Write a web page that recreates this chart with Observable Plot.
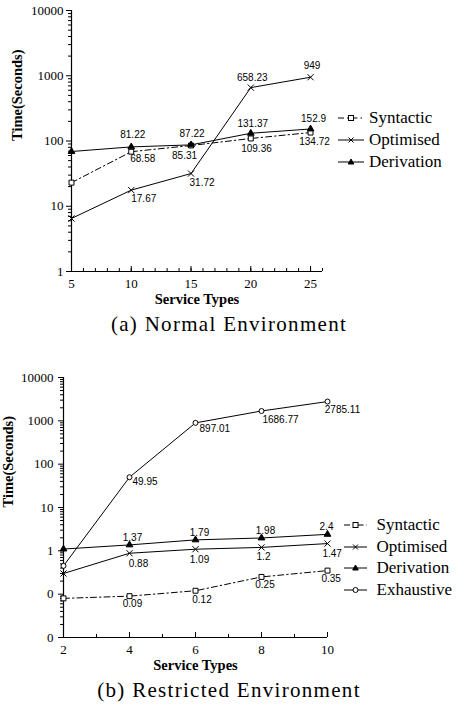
<!DOCTYPE html>
<html>
<head>
<meta charset="utf-8">
<script src="https://cdn.jsdelivr.net/npm/d3@7"></script>
<script src="https://cdn.jsdelivr.net/npm/@observablehq/plot@0.6"></script>
<style>
  html, body { margin: 0; padding: 0; background: #fff; }
  #page { position: relative; width: 456px; height: 707px; overflow: hidden; background: #fff; }
  .caption { position: absolute; left: 0; width: 458px; text-align: center; font-family: "Liberation Serif", "Times New Roman", "DejaVu Serif", serif; font-size: 21px; line-height: 24px; letter-spacing: 1.3px; color: #000; white-space: nowrap; }
  .legend-item { position: absolute; height: 20px; line-height: 20px; font-family: "Liberation Serif", "Times New Roman", "DejaVu Serif", serif; font-size: 17px; color: #000; white-space: nowrap; }
  .legend-item svg { position: absolute; left: 0; top: 4px; }
</style>
</head>
<body>
<div id="page"></div>
<script>
// ---------------- Data: (a) Normal Environment ----------------
const topX = [5, 10, 15, 20, 25];
const topSyntactic = [23, 68.58, 85.31, 109.36, 134.72];
const topOptimised = [6.5, 17.67, 31.72, 658.23, 949];
const topDerivation = [69, 81.22, 87.22, 131.37, 152.9];
const topXTicks = [5, 10, 15, 20, 25];
const topYTicks = [1, 10, 100, 1000, 10000];
const topYTickLabels = ["1", "10", "100", "1000", "10000"];

// ---------------- Data: (b) Restricted Environment ----------------
const botX = [2, 4, 6, 8, 10];
const botSyntactic = [0.08, 0.09, 0.12, 0.25, 0.35];
const botOptimised = [0.3, 0.88, 1.09, 1.2, 1.47];
const botDerivation = [1.1, 1.37, 1.79, 1.98, 2.4];
const botExhaustive = [0.45, 49.95, 897.01, 1686.77, 2785.11];
const botXTicks = [2, 4, 6, 8, 10];
const botYTicks = [0.01, 0.1, 1, 10, 100, 1000, 10000];
const botYTickLabels = ["0", "0", "1", "10", "100", "1000", "10000"];

const seriesNames = ["Syntactic", "Optimised", "Derivation", "Exhaustive"];

// ---------------- Styles (separate from data) ----------------
const SERIF = "'Liberation Serif', 'Times New Roman', 'DejaVu Serif', serif";
const SANS = "'Liberation Sans', Arial, sans-serif";
const seriesStyle = {
  Syntactic:  {dash: "6,3,1.5,3", symbol: "square",   r: 2.8, fill: "white"},
  Optimised:  {dash: null,        symbol: "times",    r: 2.9, fill: "none"},
  Derivation: {dash: null,        symbol: "triangle", r: 2.5, fill: "black"},
  Exhaustive: {dash: null,        symbol: "circle",   r: 2.5, fill: "white"}
};

// label offsets [dx, dy] relative to each point (null = no label)
const topLabelOffsets = {
  Syntactic:  [null, [11.5, 7.6], [-6.5, 10], [5.7, 10.6], [4, 9.4]],
  Optimised:  [null, [12.5, 8.8], [11, 9.2], [1.5, -10], [1.5, -11]],
  Derivation: [null, [1.5, -11.6], [1, -10.6], [2, -9.7], [3, -9.7]]
};
const botLabelOffsets = {
  Syntactic:  [null, [3, 7.7], [6.5, 9], [3.5, 8.3], [3.7, 8.3]],
  Optimised:  [null, [9, 10.5], [4, 10.7], [2, 9.7], [4.7, 10]],
  Derivation: [null, [3, -7], [4, -7], [4, -7.3], [-1, -7.3]],
  Exhaustive: [null, [15.5, 4.5], [19.3, 6], [19, 8.5], [15, 8.5]]
};

function logMinor(lo, hi) {
  const out = [];
  for (let e = Math.round(Math.log10(lo)); e < Math.round(Math.log10(hi)); e++) {
    for (let k = 2; k <= 9; k++) out.push(k * Math.pow(10, e));
  }
  return out;
}
function intRange(a, b) { const o = []; for (let v = a; v <= b; v++) o.push(v); return o; }

function makeChart(cfg) {
  const innerH = cfg.height - cfg.marginTop - cfg.marginBottom;
  const marks = [];
  marks.push(Plot.ruleX([cfg.xDomain[0]], {stroke: "black", strokeWidth: 1.2}));
  marks.push(Plot.ruleY([cfg.yDomain[0]], {stroke: "black", strokeWidth: 1.2}));
  marks.push(Plot.axisY({ticks: logMinor(cfg.yDomain[0], cfg.yDomain[1]), tickFormat: () => "", tickSize: 3, label: null}));
  marks.push(Plot.axisY({ticks: cfg.yTicks, tickFormat: d => cfg.yTickLabels[cfg.yTicks.indexOf(d)], tickSize: 5, tickPadding: cfg.yPad, label: null, fontFamily: SERIF}));
  marks.push(Plot.tickX(intRange(cfg.xDomain[0], cfg.xDomain[1]), {x: d => d, insetTop: innerH - 3, stroke: "black"}));
  marks.push(Plot.tickX(cfg.xTicks, {x: d => d, insetTop: innerH - 5, stroke: "black"}));
  marks.push(Plot.axisX({ticks: cfg.xTicks, tickSize: 0, tickPadding: 7.5, label: null, fontFamily: SERIF}));
  for (const s of cfg.series) {
    const st = seriesStyle[s.name];
    const data = cfg.xs.map((x, i) => ({x, y: s.values[i], i}));
    const opts = {x: "x", y: "y", stroke: "black", strokeWidth: 1};
    if (st.dash) opts.strokeDasharray = st.dash;
    marks.push(Plot.line(data, opts));
  }
  for (const s of cfg.series) {
    const st = seriesStyle[s.name];
    const data = cfg.xs.map((x, i) => ({x, y: s.values[i], i}));
    marks.push(Plot.dot(data, {x: "x", y: "y", symbol: st.symbol, r: st.r, fill: st.fill, stroke: "black", strokeWidth: 1}));
    const offs = cfg.offsets[s.name];
    data.forEach((d, i) => {
      if (!offs[i]) return;
      marks.push(Plot.text([d], {x: "x", y: "y", text: e => String(e.y), dx: offs[i][0], dy: offs[i][1],
        fontFamily: SANS, fontSize: 10, fill: "black"}));
    });
  }
  marks.push(Plot.text(["Time(Seconds)"], {text: d => d, frameAnchor: "left", dx: cfg.titleDx, rotate: -90,
    fontFamily: SERIF, fontWeight: "bold", fontSize: 14.5, fill: "black"}));
  marks.push(Plot.text(["Service Types"], {text: d => d, frameAnchor: "bottom", dy: 32,
    fontFamily: SERIF, fontWeight: "bold", fontSize: 14.5, fill: "black"}));
  const svg = Plot.plot({
    width: 456, height: cfg.height,
    marginLeft: cfg.marginLeft, marginRight: cfg.marginRight,
    marginTop: cfg.marginTop, marginBottom: cfg.marginBottom,
    x: {domain: cfg.xDomain},
    y: {type: "log", domain: cfg.yDomain},
    style: {fontFamily: SERIF, fontSize: "13px", color: "black", background: "transparent", overflow: "visible"},
    marks
  });
  return svg;
}

const page = document.getElementById("page");

const chartA = makeChart({
  height: 308, marginLeft: 71, marginRight: 134, marginTop: 10, marginBottom: 37,
  xDomain: [5, 26], yDomain: [1, 10000], xTicks: topXTicks, yTicks: topYTicks, yTickLabels: topYTickLabels,
  yPad: 3, titleDx: -54, xs: topX, offsets: topLabelOffsets,
  series: [
    {name: "Syntactic", values: topSyntactic},
    {name: "Optimised", values: topOptimised},
    {name: "Derivation", values: topDerivation}
  ]
});
chartA.style.position = "absolute";
chartA.style.left = "0px";
chartA.style.top = "0px";
page.appendChild(chartA);

const chartB = makeChart({
  height: 340, marginLeft: 63, marginRight: 129, marginTop: 37, marginBottom: 43,
  xDomain: [2, 10], yDomain: [0.01, 10000], xTicks: botXTicks, yTicks: botYTicks, yTickLabels: botYTickLabels,
  yPad: 5, titleDx: -55, xs: botX, offsets: botLabelOffsets,
  series: [
    {name: "Syntactic", values: botSyntactic},
    {name: "Optimised", values: botOptimised},
    {name: "Derivation", values: botDerivation},
    {name: "Exhaustive", values: botExhaustive}
  ]
});
chartB.style.position = "absolute";
chartB.style.left = "0px";
chartB.style.top = "340px";
page.appendChild(chartB);

// ---------------- Captions ----------------
function caption(text, topPx) {
  const d = document.createElement("div");
  d.className = "caption";
  d.style.top = topPx + "px";
  d.textContent = text;
  page.appendChild(d);
}
caption("(a) Normal Environment", 311.5);
caption("(b) Restricted Environment", 677.5);

// ---------------- Legends ----------------
function symbolPath(sym, cx, cy) {
  switch (sym) {
    case "square": return `<rect x="${cx-2.5}" y="${cy-2.5}" width="5" height="5" fill="white" stroke="black"/>`;
    case "times": return `<path d="M${cx-2.5},${cy-2.5}L${cx+2.5},${cy+2.5}M${cx-2.5},${cy+2.5}L${cx+2.5},${cy-2.5}" stroke="black"/>`;
    case "triangle": return `<path d="M${cx},${cy-3}L${cx+2.8},${cy+2}L${cx-2.8},${cy+2}Z" fill="black" stroke="black"/>`;
    case "circle": return `<circle cx="${cx}" cy="${cy}" r="2.5" fill="white" stroke="black"/>`;
  }
  return "";
}
function legend(names, x0, x1, textX, ys) {
  names.forEach((name, i) => {
    const st = seriesStyle[name];
    const w = x1 - x0;
    const item = document.createElement("div");
    item.className = "legend-item";
    item.style.left = x0 + "px";
    item.style.top = (ys[i] - 10) + "px";
    item.innerHTML = `<svg width="${w + 2}" height="12" style="overflow:visible">` +
      `<line x1="0" y1="6" x2="${w}" y2="6" stroke="black" stroke-width="1" ${st.dash ? `stroke-dasharray="${st.dash}"` : ""}/>` +
      symbolPath(st.symbol, w / 2, 6) + `</svg>` +
      `<span style="position:absolute;left:${textX - x0}px;top:0">${name}</span>`;
    page.appendChild(item);
  });
}
legend(seriesNames.slice(0, 3), 338, 364, 369, [118, 140, 161.7]);
legend(seriesNames, 344, 367, 376.5, [525, 546.7, 568.3, 590]);
</script>
</body>
</html>
